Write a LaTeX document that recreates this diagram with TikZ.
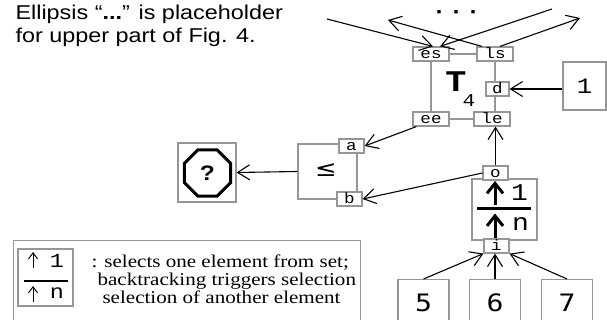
\documentclass[tikz,border=0pt]{standalone}
\usepackage{fontspec}
\setmainfont{Liberation Serif}[FakeStretch=1.17]
\setsansfont{Liberation Sans}[FakeStretch=1.17]
\setmonofont{Liberation Mono}[FakeStretch=1.17]
\newfontfamily\djmono{DejaVu Sans Mono}[FakeStretch=1.17]
\newfontfamily\djsans{DejaVu Sans}[FakeStretch=1.17]
\newfontfamily\dotfont{Liberation Mono Bold}[FakeBold=6]
\usetikzlibrary{arrows.meta,calc,shapes.geometric}
\definecolor{gframe}{RGB}{150,150,150}
\begin{document}
\begin{tikzpicture}[x=1pt,y=-1pt,
  gline/.style={draw=gframe,line width=1.2pt},
  gbox/.style={draw=gframe,line width=1.2pt,inner sep=0pt},
  port/.style={draw=gframe,fill=white,line width=1.2pt,inner sep=0pt,
    minimum height=14pt,text height=10pt,text depth=0pt,
    font=\ttfamily\fontsize{15}{15}\selectfont},
  conn/.style={line width=1.1pt,-{Straight Barb[length=12pt,width=15pt,line width=1.1pt]}},
  thickarr/.style={line width=3pt,-{Straight Barb[length=10pt,width=16pt,line width=3pt]}},
  thinarr/.style={line width=1pt,-{Straight Barb[length=6pt,width=9pt,line width=1pt]}},
  numbox/.style={gbox,anchor=north,minimum width=51pt,minimum height=46pt,
    font=\djmono\fontsize{24}{24}\selectfont},
  ttl/.style={anchor=base west,font=\sffamily\fontsize{20}{20}\selectfont},
  leg/.style={anchor=base west,font=\rmfamily\fontsize{18}{18}\selectfont},
]
\fill[white] (0,0) rectangle (607,320);
\useasboundingbox (0,0) rectangle (607,320);
\clip (0,0) rectangle (607,320);

% title
\node[ttl] (t1) at (12,19.5) {Ellipsis “\textbf{...}” is placeholder};
\node[ttl] (t2) at (12,43) {for upper part of Fig. 4.};

% ellipsis on top
\node[anchor=base,inner sep=0pt,font=\dotfont\fontsize{16}{16}\selectfont] (dots) at (456,13) {.\hspace{7.5pt}.\hspace{7.5pt}.};

% T4 block
\draw[gline] (431,54) -- (495,54);
\node[port,minimum width=36pt] (es) at (431,54) {es};
\node[port,minimum width=36pt] (ls) at (495,54) {ls};
\node[port,minimum width=36pt] (ee) at (431,119) {ee};
\node[port,minimum width=36pt] (le) at (492,119) {le};
\draw[gline] (es.south) -- (ee.north);
\draw[gline] (ls.south) -- (ls.south |- le.north);
\draw[gline] (ee.east) -- (le.west);
\node[port,minimum width=23pt] (d) at (497.5,89) {d};
\node[anchor=base,font=\ttfamily\bfseries\fontsize{30}{30}\selectfont] (T) at (456,92) {T};
\node[anchor=base,font=\ttfamily\fontsize{18}{18}\selectfont] (four) at (469,107) {4};

% box 1
\node[gbox,minimum width=43pt,minimum height=48pt,
  font=\ttfamily\fontsize{22}{22}\selectfont] (one) at (584.5,86) {1};

% comparator
\node[gbox,minimum width=59pt,minimum height=55pt] (cmp) at (327.5,171.5) {};
\node[font=\djsans\fontsize{22}{22}\selectfont] (leq) at (326,170) {≤};
\node[port,minimum width=25pt] (a) at (351.5,146) {a};
\node[port,minimum width=25pt] (b) at (349.5,199) {b};

% ? box
\node[gbox,minimum width=58pt,minimum height=59pt] (q) at (207,172.5) {};
\node[draw,line width=3pt,regular polygon,regular polygon sides=8,
  minimum size=50pt,inner sep=0pt,
  font=\sffamily\bfseries\fontsize{21}{21}\selectfont] (oct) at (207.5,173) {?};

% selector
\node[gbox,minimum width=65pt,minimum height=61pt] (sel) at (504.5,209.5) {};
\draw[thickarr] ($(sel)+(-9.5,-4)$) -- ($(sel)+(-9.5,-28.5)$);
\draw[thickarr] ($(sel)+(-9.5,29)$) -- ($(sel)+(-9.5,4)$);
\draw[line width=3pt] ($(sel)+(-27.5,-0.5)$) -- ($(sel)+(26.5,-0.5)$);
\node[font=\ttfamily\fontsize{24}{24}\selectfont] (s1) at ($(sel)+(15,-17)$) {1};
\node[font=\ttfamily\fontsize{24}{24}\selectfont] (sn) at ($(sel)+(16,15)$) {n};
\node[port,minimum width=25pt] (o) at (495.5,173) {o};
\node[port,minimum width=25pt] (i) at (496.5,246) {i};

% number boxes
\node[numbox] (n5) at (423.5,279) {5};
\node[numbox] (n6) at (495,279) {6};
\node[numbox] (n7) at (567,279) {7};

% legend
\node[gbox,anchor=north west,minimum width=347pt,minimum height=90pt] (legend) at (13,240) {};
\node[gbox,minimum width=55pt,minimum height=57pt] (lsel) at (45.5,277.5) {};
\draw[thinarr] ($(lsel)+(-12.5,-9.5)$) -- ($(lsel)+(-12.5,-25.5)$);
\draw[thinarr] ($(lsel)+(-12.5,24.5)$) -- ($(lsel)+(-12.5,8.5)$);
\draw[line width=1.2pt] ($(lsel)+(-21.5,3.5)$) -- ($(lsel)+(22.5,3.5)$);
\node[font=\ttfamily\fontsize{20}{20}\selectfont] (l1) at ($(lsel)+(11.5,-17)$) {1};
\node[font=\ttfamily\fontsize{20}{20}\selectfont] (ln) at ($(lsel)+(11.5,15.5)$) {n};
\node[leg] (lt1) at (88,267) {: selects one element from set;};
\node[leg] (lt2) at (94,285) {backtracking triggers selection};
\node[leg] (lt3) at (99,303) {selection of another element};

% connectors
\coordinate (tl) at (327,19);
\coordinate (tr) at (552,9);
\coordinate (tlo) at (388,20);
\coordinate (tro) at (580,18);
\draw[conn] (tl) -- ([xshift=2pt]es.north);
\draw[conn] (tr) -- ([xshift=9pt]es.north);
\draw[conn] ([xshift=-13pt]ls.north) -- (tlo);
\draw[conn] ([xshift=5pt]ls.north) -- (tro);
\draw[conn] (one.west |- d.east) -- (d.east);
\draw[conn] ([xshift=4pt]ee.south west) -- (a.east);
\draw[conn] (o.west) -- (b.east);
\draw[conn] (o.north) -- (o.north |- le.south);
\draw[conn] (cmp.west) -- (q.east);
\draw[conn] (n5.north) -- (i.south west);
\draw[conn] (n6.north) -- (n6.north |- i.south);
\draw[conn] (n7.north) -- (i.south east);
\end{tikzpicture}
\end{document}
